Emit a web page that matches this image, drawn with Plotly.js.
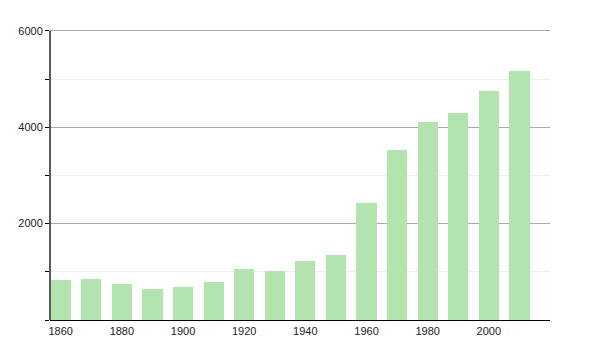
<!DOCTYPE html>
<html>
<head>
<meta charset="utf-8">
<script src="https://cdn.plot.ly/plotly-3.0.1.min.js"></script>
<style>html,body{margin:0;padding:0;background:#fff;}#chart{width:600px;height:350px;}</style>
</head>
<body>
<div id="chart"></div>
<script>
const years = [1860,1870,1880,1890,1900,1910,1920,1930,1940,1950,1960,1970,1980,1990,2000,2010];
const population = [830,851,747,643,678,789,1059,1017,1220,1340,2422,3529,4110,4290,4747,5163];
const xTickVals = [1860,1880,1900,1920,1940,1960,1980,2000];
const yTickVals = [0,2000,4000,6000];
const yTickText = ['','2000','4000','6000'];

const data = [{
  type: 'bar',
  x: years,
  y: population,
  width: 6.6,
  marker: {color: 'rgb(179,228,176)', line: {width: 0}},
  hoverinfo: 'x+y'
}];

const layout = {
  width: 600, height: 350,
  margin: {l: 50, r: 50, t: 26, b: 30},
  paper_bgcolor: '#fff', plot_bgcolor: '#fff',
  font: {family: 'Liberation Sans, Arial, sans-serif', size: 11, color: '#222'},
  showlegend: false,
  bargap: 0,
  xaxis: {
    range: [1856.5, 2020],
    tickmode: 'array', tickvals: xTickVals,
    ticks: '', showgrid: false, zeroline: false,
    showline: true, linecolor: '#000', linewidth: 1.3,
    tickfont: {size: 11, color: '#222'}
  },
  yaxis: {
    range: [0, 6100],
    tickmode: 'array', tickvals: yTickVals, ticktext: yTickText,
    ticks: 'outside', ticklen: 4, tickcolor: '#000',
    showgrid: true, gridcolor: '#aaa', gridwidth: 1,
    zeroline: false,
    showline: false,
    tickfont: {size: 11, color: '#222'},
    minor: {tickmode: 'array', tickvals: [1000,3000,5000], ticks: 'outside', ticklen: 4, tickcolor: '#000', showgrid: true, gridcolor: '#eee'}
  },
  shapes: [{type: 'line', xref: 'paper', yref: 'y', x0: 0, x1: 0, y0: 0, y1: 6000, line: {color: '#000', width: 1.3}}]
};

Plotly.newPlot('chart', data, layout, {displayModeBar: false, staticPlot: true});
</script>
</body>
</html>
